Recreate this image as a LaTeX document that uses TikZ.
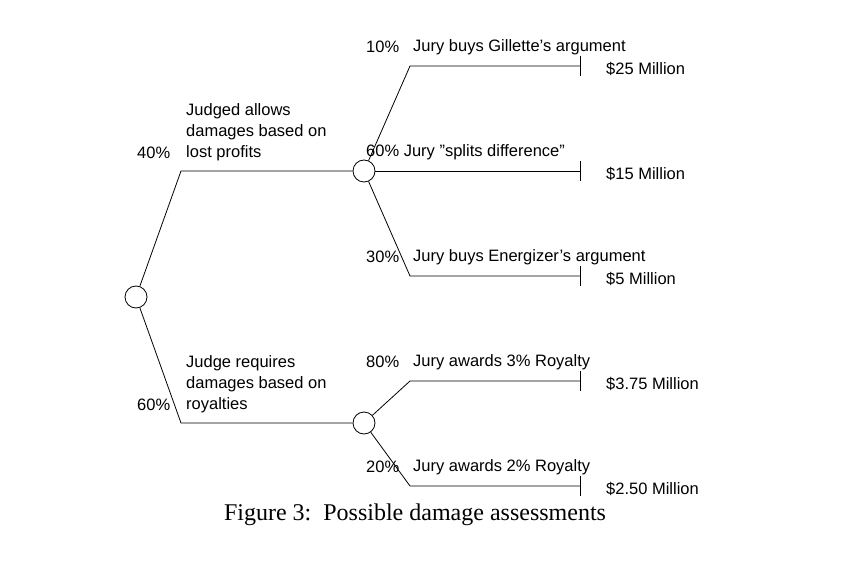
\documentclass[tikz,border=0pt]{standalone}
\usepackage{fontspec}
\setmainfont{Liberation Sans}
\newfontfamily\capfont{Liberation Serif}
\begin{document}
\begin{tikzpicture}[x=1pt,y=-1pt,
  chance/.style={circle,draw,line width=0.8pt,minimum size=22pt,inner sep=0pt},
  br/.style={line width=0.8pt},
  lbl/.style={font=\fontsize{16.5}{21}\selectfont,inner sep=0pt,anchor=west,align=left},
  val/.style={font=\fontsize{16.5}{21}\selectfont,inner sep=0pt,anchor=west}]
\useasboundingbox (0,0) rectangle (866,561);
\node[chance] (r) at (136,297) {};
\node[chance] (u) at (364,171) {};
\node[chance] (l) at (364,423) {};
\coordinate (ru) at (181,171);
\coordinate (rl) at (181,423);
\draw[br] (r) -- (ru) -- (u);
\draw[br] (r) -- (rl) -- (l);
\foreach \n/\s/\y/\e in {u/a/66/1, u/b/171/0, u/c/276/1, l/d/381/1, l/e/486/1}{
  \coordinate (\s1) at (410,\y);
  \coordinate (\s2) at (580,\y);
  \coordinate (\s3) at (580,\y-10);
  \coordinate (\s4) at (580,\y+10);
  \draw[br] (\s3) -- (\s4);
}
\draw[br] (u) -- (a1) -- (a2);
\draw[br] (u) -- (b2);
\draw[br] (u) -- (c1) -- (c2);
\draw[br] (l) -- (d1) -- (d2);
\draw[br] (l) -- (e1) -- (e2);
% labels
\node[lbl] (t40) at (137,153) {40\%};
\node[lbl] (tj1) at (186,132) {Judged allows\\damages based on\\lost profits};
\node[lbl] (t60) at (137,405) {60\%};
\node[lbl] (tj2) at (186,384) {Judge requires\\damages based on\\royalties};
\node[lbl] (p1) at (366,47) {10\%};
\node[lbl] (q1) at (413,47) {Jury buys Gillette's argument};
\node[val] (v1) at (606,69) {\$25 Million};
\node[lbl] (p2) at (366,152) {60\% Jury \char"22 splits difference\char"22};
\node[val] (v2) at (606,174) {\$15 Million};
\node[lbl] (p3) at (366,257) {30\%};
\node[lbl] (q3) at (413,257) {Jury buys Energizer's argument};
\node[val] (v3) at (606,279) {\$5 Million};
\node[lbl] (p4) at (366,362) {80\%};
\node[lbl] (q4) at (413,362) {Jury awards 3\% Royalty};
\node[val] (v4) at (606,384) {\$3.75 Million};
\node[lbl] (p5) at (366,467) {20\%};
\node[lbl] (q5) at (413,467) {Jury awards 2\% Royalty};
\node[val] (v5) at (606,489) {\$2.50 Million};
\node[font=\capfont\fontsize{24}{28}\selectfont,inner sep=0pt] (cap) at (415,515) {Figure 3:\ \ Possible damage assessments};
\end{tikzpicture}
\end{document}
